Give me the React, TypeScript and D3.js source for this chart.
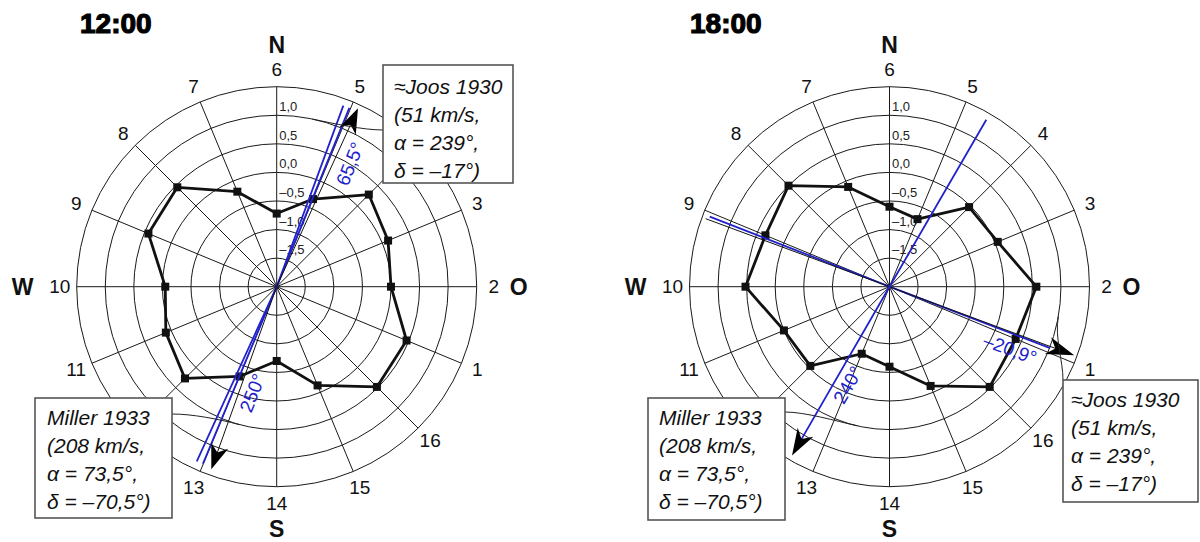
import React from 'react';
import * as d3 from 'd3';

// ---------- data ----------
const directions = [1, 2, 3, 4, 5, 6, 7, 8, 9, 10, 11, 12, 13, 14, 15, 16];
const ringValues = [-1.5, -1.0, -0.5, 0.0, 0.5, 1.0, 1.5];
const ringLabelValues = [-1.5, -1.0, -0.5, 0.0, 0.5, 1.0];
const ringLabelTexts = ['–1,5', '–1,0', '–0,5', '0,0', '0,5', '1,0'];
const values1200 = [0.46, 0.0, 0.11, 0.28, -0.34, -0.72, -0.2, 0.46, 0.43, -0.05, 0.1, 0.27, -0.3, -0.7, -0.13, 0.48];
const values1800 = [0.39, 0.57, 0.05, -0.03, -0.72, -0.6, -0.11, 0.5, 0.35, 0.52, 0.0, -0.04, -0.73, -0.6, -0.12, 0.48];
const compassLetters = ['N', 'O', 'S', 'W'];
const compassAngles = [90, 0, -90, 180];
const titles = ['12:00', '18:00'];
const joosLines = ['≈Joos 1930', '(51 km/s,', 'α = 239°,', 'δ = –17°)'];
const millerLines = ['Miller 1933', '(208 km/s,', 'α = 73,5°,', 'δ = –70,5°)'];
// direction angles (deg, counter-clockwise from east)
const blueAngles1200 = [[69.8, 245.4], [67.9, 247.4]];
const arrowAngles1200 = [65.5, 250.3];
const angleLabels1200 = ['65,5°', '250°'];
const blueAngles1800 = [[158.7, -20.9], [59.9, 240]];
const arrowAngles1800 = [159.7, -20.4];
const arrowAngle1800b = 240;
const angleLabels1800 = ['–20,9°', '240°'];

// ---------- layout ----------
const R = 200;
const FONT = '"Liberation Sans", Arial, Helvetica, sans-serif';
const BLUE = '#2222cc';
const rScale = d3.scaleLinear().domain([-2, 1.5]).range([0, R]);
const dirAngle = (k: number) => (k - 2) * 22.5;

function pt(cx: number, cy: number, r: number, deg: number): [number, number] {
  const a = (deg * Math.PI) / 180;
  return [cx + r * Math.cos(a), cy - r * Math.sin(a)];
}

function arrowHead(cx: number, cy: number, r: number, deg: number, L = 25, W = 9, notch = 7) {
  const a = (deg * Math.PI) / 180;
  const u = [Math.cos(a), -Math.sin(a)];
  const n = [-u[1], u[0]];
  const [tx, ty] = pt(cx, cy, r, deg);
  const p1 = [tx - L * u[0] + W * n[0], ty - L * u[1] + W * n[1]];
  const p2 = [tx - (L - notch) * u[0], ty - (L - notch) * u[1]];
  const p3 = [tx - L * u[0] - W * n[0], ty - L * u[1] - W * n[1]];
  return `M${tx},${ty}L${p1[0]},${p1[1]}L${p2[0]},${p2[1]}L${p3[0]},${p3[1]}Z`;
}

function leader(cx: number, cy: number, r: number, deg: number, bx: number, by: number, ax: number, ay: number, k1 = 22, k2 = 20) {
  const [px, py] = pt(cx, cy, r, deg);
  const a = (deg * Math.PI) / 180;
  const dx = Math.sin(a), dy = Math.cos(a);
  return `M${px},${py}C${px + dx * k1},${py + dy * k1} ${bx - ax * k2},${by - ay * k2} ${bx},${by}`;
}

function Box({ x, y, w, h, lines, tx, base }: { x: number; y: number; w: number; h: number; lines: string[]; tx: number; base: number }) {
  return (
    <g>
      <rect x={x} y={y} width={w} height={h} fill="#fff" stroke="#555" strokeWidth={1.6} />
      {lines.map((t, i) => (
        <text key={i} x={tx} y={base + i * 28} fontFamily={FONT} fontStyle="italic" fontSize={21} fill="#111">
          {t}
        </text>
      ))}
    </g>
  );
}

function Grid({ cx, cy }: { cx: number; cy: number }) {
  return (
    <g>
      {ringValues.map((v, i) => (
        <circle key={i} cx={cx} cy={cy} r={rScale(v)} fill="none" stroke="#1a1a1a" strokeWidth={1} />
      ))}
      {directions.map((k) => {
        const [x, y] = pt(cx, cy, R, dirAngle(k));
        return <line key={k} x1={cx} y1={cy} x2={x} y2={y} stroke="#1a1a1a" strokeWidth={1} />;
      })}
      {directions.map((k) => {
        const [x, y] = pt(cx, cy, 217, dirAngle(k));
        return (
          <text key={k} x={x} y={y} textAnchor="middle" dominantBaseline="central" fontFamily={FONT} fontSize={19} fill="#111">
            {k}
          </text>
        );
      })}
      {ringLabelValues.map((v, i) => (
        <text key={i} x={cx + 2.5} y={cy - rScale(v) - 4} fontFamily={FONT} fontSize={13} fill="#222">
          {ringLabelTexts[i]}
        </text>
      ))}
      {compassLetters.map((t, i) => {
        const rr = t === 'W' ? 254 : 242;
        const [x, y] = pt(cx, cy, rr, compassAngles[i]);
        return (
          <text key={t} x={x} y={y} textAnchor="middle" dominantBaseline="central" fontFamily={FONT} fontWeight="bold" fontSize={23} fill="#111">
            {t}
          </text>
        );
      })}
    </g>
  );
}

function Profile({ cx, cy, values }: { cx: number; cy: number; values: number[] }) {
  const line = d3
    .line<number>()
    .x((v, i) => pt(cx, cy, rScale(v), dirAngle(directions[i]))[0])
    .y((v, i) => pt(cx, cy, rScale(v), dirAngle(directions[i]))[1])
    .curve(d3.curveLinearClosed);
  return (
    <g>
      <path d={line(values) || ''} fill="none" stroke="#111" strokeWidth={2.8} strokeLinejoin="round" />
      {values.map((v, i) => {
        const [x, y] = pt(cx, cy, rScale(v), dirAngle(directions[i]));
        return <rect key={i} x={x - 4} y={y - 4} width={8} height={8} fill="#111" />;
      })}
    </g>
  );
}

function seg(cx: number, cy: number, a1: number, r1: number, a2: number, r2: number) {
  const [x1, y1] = pt(cx, cy, r1, a1);
  const [x2, y2] = pt(cx, cy, r2, a2);
  return `M${x1},${y1}L${cx},${cy}L${x2},${y2}`;
}

export default function App() {
  const L = { cx: 276.7, cy: 286.7 };
  const Rt = { cx: 889.5, cy: 286.7 };
  return (
    <div style={{ position: 'absolute', left: 0, top: 0 }}>
      <style>{'body{margin:0}'}</style>
      <svg width={1200} height={542} viewBox="0 0 1200 542" style={{ display: 'block', background: '#fff' }}>
        <rect x={0} y={0} width={1200} height={542} fill="#fff" />
        {/* titles */}
        <text x={80} y={33} fontFamily={FONT} fontWeight="bold" fontSize={28} fill="#000" stroke="#000" strokeWidth={1.2}>
          {titles[0]}
        </text>
        <text x={690} y={33} fontFamily={FONT} fontWeight="bold" fontSize={28} fill="#000" stroke="#000" strokeWidth={1.2}>
          {titles[1]}
        </text>

        {/* ---------- 12:00 ---------- */}
        <Grid cx={L.cx} cy={L.cy} />
        <Profile cx={L.cx} cy={L.cy} values={values1200} />
        {blueAngles1200.map((a, i) => (
          <path key={i} d={seg(L.cx, L.cy, a[0], 193, a[1], 192)} fill="none" stroke={BLUE} strokeWidth={1.8} />
        ))}
        <path d={seg(L.cx, L.cy, arrowAngles1200[0], 190, arrowAngles1200[1], 188)} fill="none" stroke="#111" strokeWidth={1} />
        <path d={arrowHead(L.cx, L.cy, 196, arrowAngles1200[0])} fill="#000" />
        <path d={arrowHead(L.cx, L.cy, 194, arrowAngles1200[1])} fill="#000" />
        <text x={350} y={164} textAnchor="middle" dominantBaseline="central" fontFamily={FONT} fontSize={19} fill={BLUE} transform="rotate(-68 350 164)">
          {angleLabels1200[0]}
        </text>
        <text x={252.5} y={393} textAnchor="middle" dominantBaseline="central" fontFamily={FONT} fontSize={19} fill={BLUE} transform="rotate(-68 252.5 393)">
          {angleLabels1200[1]}
        </text>
        <path d={leader(L.cx, L.cy, rScale(1.0), 78, 383, 130, 1, 0)} fill="none" stroke="#222" strokeWidth={1} />
        <path d={leader(L.cx, L.cy, rScale(0.5), -105, 172, 414, -1, 0)} fill="none" stroke="#222" strokeWidth={1} />
        <Box x={383} y={65} w={130} h={118} lines={joosLines} tx={394} base={94} />
        <Box x={35} y={398} w={137} h={120} lines={millerLines} tx={47} base={425} />

        {/* ---------- 18:00 ---------- */}
        <Grid cx={Rt.cx} cy={Rt.cy} />
        <Profile cx={Rt.cx} cy={Rt.cy} values={values1800} />
        <path d={seg(Rt.cx, Rt.cy, blueAngles1800[0][0], 193, blueAngles1800[0][1], 172)} fill="none" stroke={BLUE} strokeWidth={1.8} />
        <path d={seg(Rt.cx, Rt.cy, arrowAngles1800[0], 196, arrowAngles1800[1], 180)} fill="none" stroke="#111" strokeWidth={1} />
        <path d={arrowHead(Rt.cx, Rt.cy, 197, arrowAngles1800[1], 28, 9, 8)} fill="#000" />
        <path d={seg(Rt.cx, Rt.cy, blueAngles1800[1][0], 193, blueAngles1800[1][1], 176)} fill="none" stroke={BLUE} strokeWidth={1.8} />
        <path d={arrowHead(Rt.cx, Rt.cy, 195, arrowAngle1800b, 27, 9, 8)} fill="#000" />
        <text x={1010} y={349} textAnchor="middle" dominantBaseline="central" fontFamily={FONT} fontSize={19} fill={BLUE} transform="rotate(20.5 1010 349)">
          {angleLabels1800[0]}
        </text>
        <text x={848} y={385} textAnchor="middle" dominantBaseline="central" fontFamily={FONT} fontSize={19} fill={BLUE} transform="rotate(-60 848 385)">
          {angleLabels1800[1]}
        </text>
        <path d={leader(Rt.cx, Rt.cy, rScale(1.0), -10, 1063, 380, 0, 1)} fill="none" stroke="#222" strokeWidth={1} />
        <path d={leader(Rt.cx, Rt.cy, rScale(0.5), -103, 785, 412, -1, 0)} fill="none" stroke="#222" strokeWidth={1} />
        <Box x={648} y={398} w={137} h={122} lines={millerLines} tx={659} base={425} />
        <Box x={1063} y={380} w={135} h={122} lines={joosLines} tx={1071} base={407} />
      </svg>
    </div>
  );
}
